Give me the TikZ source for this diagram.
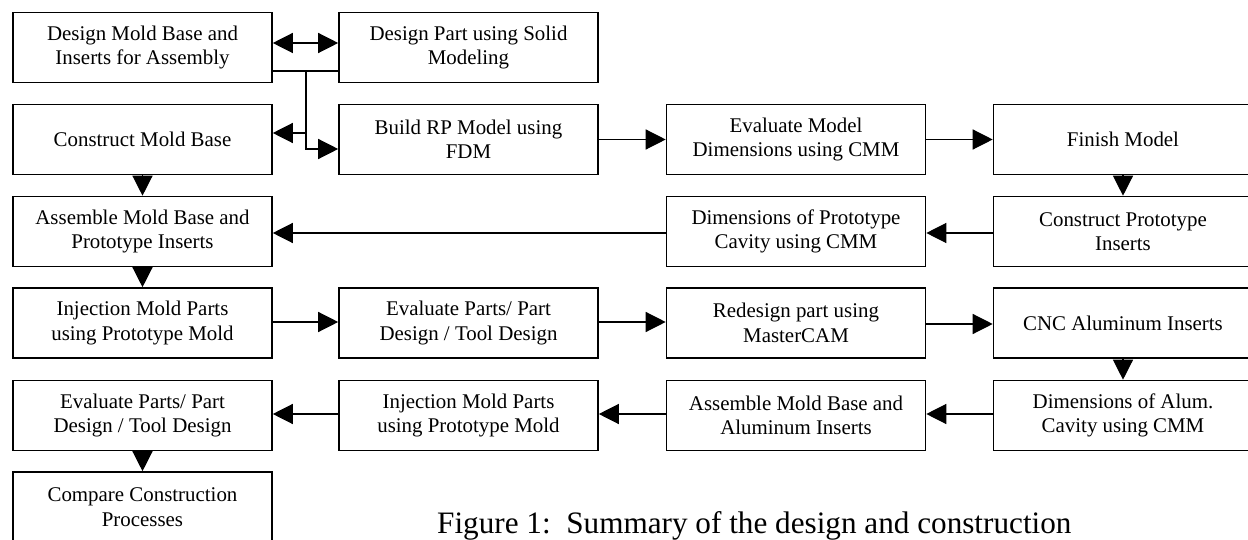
\documentclass[tikz,border=0pt]{standalone}
\usepackage{fontspec}
\setmainfont{Liberation Serif}
\usetikzlibrary{arrows.meta}
\tikzset{
  box/.style={draw, line width=1.6pt, minimum width=259pt, minimum height=70pt, inner sep=0pt, align=center,
    font=\fontsize{20.9}{24.5}\selectfont},
  arr/.style={line width=1.3pt, -{Triangle[length=20pt,width=20pt]}},
  darr/.style={line width=1.3pt, {Triangle[length=20pt,width=20pt]}-{Triangle[length=20pt,width=20pt]}},
  ln/.style={line width=1.3pt}
}
\begin{document}
\begin{tikzpicture}[x=1pt,y=-1pt]
\useasboundingbox (0,0) rectangle (1248,540);
% row 1
\node[box] (dmb) at (142.5,47.5) {Design Mold Base and\\Inserts for Assembly};
\node[box] (dp) at (468.5,47.5) {Design Part using Solid\\Modeling};
% row 2
\node[box] (cmb) at (142.5,139.5) {Construct Mold Base};
\node[box] (rp) at (468.5,139.5) {Build RP Model using\\FDM};
\node[box] (emd) at (796,139.5) {Evaluate Model\\Dimensions using CMM};
\node[box] (fm) at (1123,139.5) {Finish Model};
% row 3
\node[box] (amp) at (142.5,231.5) {Assemble Mold Base and\\Prototype Inserts};
\node[box] (dpc) at (796,231.5) {Dimensions of Prototype\\Cavity using CMM};
\node[box] (cpi) at (1123,231.5) {Construct Prototype\\Inserts};
% row 4
\node[box] (imp) at (142.5,323) {Injection Mold Parts\\using Prototype Mold};
\node[box] (ep) at (468.5,323) {Evaluate Parts/ Part\\Design / Tool Design};
\node[box] (rd) at (796,323) {Redesign part using\\MasterCAM};
\node[box] (cnc) at (1123,323) {CNC Aluminum Inserts};
% row 5
\node[box] (ep2) at (142.5,415.5) {Evaluate Parts/ Part\\Design / Tool Design};
\node[box] (imp2) at (468.5,415.5) {Injection Mold Parts\\using Prototype Mold};
\node[box] (ama) at (796,415.5) {Assemble Mold Base and\\Aluminum Inserts};
\node[box] (dac) at (1123,415.5) {Dimensions of Alum.\\Cavity using CMM};
% row 6
\node[box] (cc) at (142.5,507) {Compare Construction\\Processes};
% caption
\node[anchor=base west, inner sep=0pt, font=\fontsize{31.2}{36}\selectfont] (cap) at (437,533) {Figure 1:\ \ Summary of the design and construction};
% connectors
\draw[darr] (dmb.east |- 0,43) -- (dp.west |- 0,43);
\draw[ln] (dmb.east |- 0,71) -- (dp.west |- 0,71);
\coordinate (j1) at (306,71);
\draw[arr] (j1) -- (306,149) -- (rp.west |- 0,149);
\draw[arr] (306,133) -- (cmb.east |- 0,133);
\draw[arr] (rp) -- (emd);
\draw[arr] (emd) -- (fm);
\draw[arr] (fm) -- (cpi);
\draw[arr] (cpi.west |- 0,233) -- (dpc.east |- 0,233);
\draw[arr] (dpc.west |- 0,233) -- (amp.east |- 0,233);
\draw[arr] (cmb) -- (amp);
\draw[arr] (amp) -- (imp);
\draw[arr] (imp.east |- 0,322) -- (ep.west |- 0,322);
\draw[arr] (ep.east |- 0,322) -- (rd.west |- 0,322);
\draw[arr] (rd.east |- 0,324) -- (cnc.west |- 0,324);
\draw[arr] (cnc) -- (dac);
\draw[arr] (dac.west |- 0,414) -- (ama.east |- 0,414);
\draw[arr] (ama.west |- 0,414) -- (imp2.east |- 0,414);
\draw[arr] (imp2.west |- 0,414) -- (ep2.east |- 0,414);
\draw[arr] (ep2) -- (cc);
\end{tikzpicture}
\end{document}
